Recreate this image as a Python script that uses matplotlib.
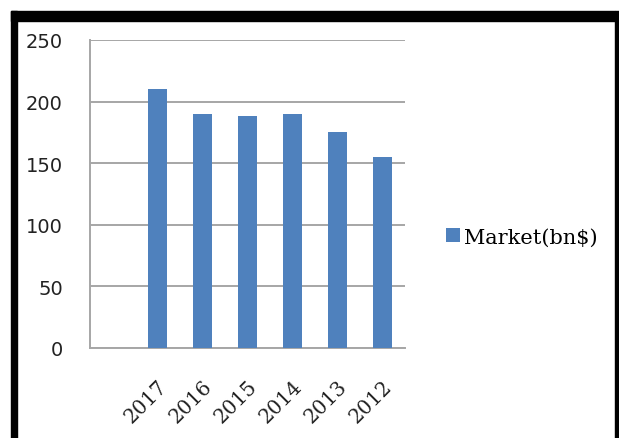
import matplotlib
matplotlib.use('Agg')
import matplotlib.pyplot as plt
import matplotlib.transforms as mtransforms
from matplotlib.patches import Rectangle

# Data
categories = ['', '2017', '2016', '2015', '2014', '2013', '2012']
market = [None, 210, 190, 188, 190, 175, 155]
series_name = 'Market(bn$)'
y_ticks = [0, 50, 100, 150, 200, 250]

W, H = 619, 439
fig = plt.figure(figsize=(W / 100, H / 100), dpi=100)
fig.patch.set_facecolor('white')

# black picture frame
for x0, y0, w, h in [(11, 12, 604, 10), (11, 12, 6, 427), (615, 12, 4, 427)]:
    fig.patches.append(Rectangle((x0 / W, 1 - (y0 + h) / H), w / W, h / H,
                                 transform=fig.transFigure, color='black', zorder=0))

ax = fig.add_axes([90 / W, 1 - 349 / H, 315 / W, 308 / H])

xs = list(range(len(categories)))
vals = [v if v is not None else 0 for v in market]
bars = ax.bar(xs, vals, width=0.42, color='#4F81BD', zorder=3, label=series_name)

ax.set_xlim(-0.5, len(categories) - 0.5)
ax.set_ylim(0, 250)
ax.set_yticks(y_ticks)
ax.set_yticklabels([str(t) for t in y_ticks], family='DejaVu Sans', fontsize=14, color='#222222')
ax.set_xticks(xs)
ax.set_xticklabels(categories, family='DejaVu Serif', fontsize=14.5, rotation=45,
                   ha='right', va='top', rotation_mode='anchor', color='#222222')

# nudge rotated year labels a bit to the left, like the original
shift = mtransforms.ScaledTranslation(-5 / 100, 0, fig.dpi_scale_trans)
for lbl in ax.get_xticklabels():
    lbl.set_transform(lbl.get_transform() + shift)

# pads are in points
ax.tick_params(axis='y', length=0, pad=19.5)
ax.tick_params(axis='x', length=0, pad=20)
ax.grid(axis='y', color='#A6A6A6', linewidth=1.4, zorder=1)
for s in ['top', 'right']:
    ax.spines[s].set_visible(False)
for s in ['left', 'bottom']:
    ax.spines[s].set_color('#A6A6A6')
    ax.spines[s].set_linewidth(1.4)

leg = fig.legend(handles=[bars], labels=[series_name], loc='center left',
                 bbox_to_anchor=(446 / W, 1 - 238 / H), frameon=False,
                 prop={'family': 'DejaVu Serif', 'size': 15},
                 borderpad=0, borderaxespad=0,
                 handlelength=0.65, handleheight=0.65, handletextpad=0.2)

fig.savefig('out.png', dpi=100, facecolor='white')
